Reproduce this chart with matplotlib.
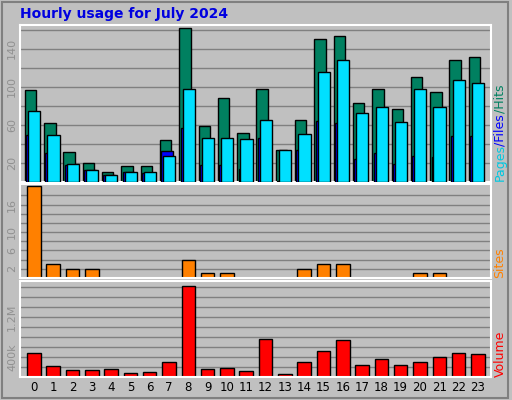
import matplotlib
matplotlib.use("Agg")
import matplotlib.pyplot as plt
from matplotlib.patches import Rectangle

hours = list(range(24))
hits = [97,62,32,20,11,17,17,44,162,59,88,52,98,34,65,150,153,83,98,77,110,95,128,131]
files = [49,30,18,13,7,11,9,33,57,18,18,14,46,1,34,64,62,24,30,19,27,26,48,48]
pages = [75,49,19,13,7,11,10,27,98,46,46,45,65,34,50,116,128,73,79,63,98,79,107,104]
sites = [20,3,2,2,0,0,0,0,4,1,1,0,0,0,2,3,3,0,0,0,1,1,0,0]
volume = [490e3,228e3,148e3,148e3,168e3,87e3,107e3,309e3,1819e3,168e3,188e3,128e3,752e3,67e3,309e3,530e3,732e3,248e3,369e3,248e3,309e3,409e3,490e3,470e3]

BG = "#C0C0C0"
fig = plt.figure(figsize=(5.12, 4.0), dpi=100, facecolor=BG)
W, H = 512, 400
def ax_at(x0, y0, x1, y1):
    ax = fig.add_axes([x0/W, 1-y1/H, (x1-x0)/W, (y1-y0)/H])
    ax.set_facecolor(BG)
    for s in ax.spines.values():
        s.set_color("white"); s.set_linewidth(1.5)
    ax.set_xlim(-0.72, 23.68)
    ax.tick_params(axis='y', length=0, labelsize=8, labelcolor="#909090", rotation=90, pad=2)
    ax.tick_params(axis='x', length=0)
    ax.set_xticks([])
    for t in ax.get_yticklabels():
        t.set_va('center')
    return ax

fig.patches.append(Rectangle((2/W, 2/H), 506/W, 396/H, transform=fig.transFigure, fill=False, ec="#808080", lw=1.5))
fig.text(20/W, 1-14/H, "Hourly usage for July 2024", color="#0000E0", fontsize=10, fontweight="bold", va="center")

x = hours
ax1 = ax_at(20, 25, 491, 182)
ax1.set_ylim(0, 165)
for y in range(20, 161, 20):
    ax1.axhline(y, color="#808080", lw=1, zorder=0)
ax1.bar([h-0.175 for h in x], hits, width=0.59, color="#008060", ec="black", lw=1, zorder=2)
ax1.bar([h-0.1 for h in x], files, width=0.6, color="#0000FF", ec="black", lw=1, zorder=3)
ax1.bar([h+0.015 for h in x], pages, width=0.63, color="#00E0FF", ec="black", lw=1, zorder=4)
ax1.set_yticks([20, 60, 100, 140])

ax2 = ax_at(20, 184, 491, 278)
ax2.set_ylim(0, 20.5)
for y in range(2, 19, 2):
    ax2.axhline(y, color="#808080", lw=1, zorder=0)
ax2.bar(x, sites, width=0.7, color="#FF8000", ec="black", lw=1, zorder=2)
ax2.set_yticks([2, 6, 10, 16])

ax3 = ax_at(20, 281, 491, 377)
ax3.set_ylim(0, 1.92e6)
for y in range(1, 10):
    ax3.axhline(y*200e3, color="#808080", lw=1, zorder=0)
ax3.bar(x, volume, width=0.7, color="#FF0000", ec="black", lw=1, zorder=2)
ax3.set_yticks([400e3, 1200e3])
ax3.set_yticklabels(["400k", "1.2M"])
ax3.set_xticks(hours)
ax3.set_xticklabels([str(h) for h in hours], fontsize=8.5, color="black")
ax3.tick_params(axis='x', pad=3)

fx = 500/W
kw = dict(rotation=90, fontsize=9, va="bottom", ha="center")
fig.text(fx, 1-181/H, "Pages", color="#00C8E0", **kw)
fig.text(fx, 1-146/H, "/Files", color="#0000FF", **kw)
fig.text(fx, 1-113/H, "/Hits", color="#008060", **kw)
fig.text(fx, 1-278/H, "Sites", color="#FF8000", **kw)
fig.text(fx, 1-377/H, "Volume", color="#FF0000", **kw)

fig.savefig("out.png", dpi=100, facecolor=BG)
